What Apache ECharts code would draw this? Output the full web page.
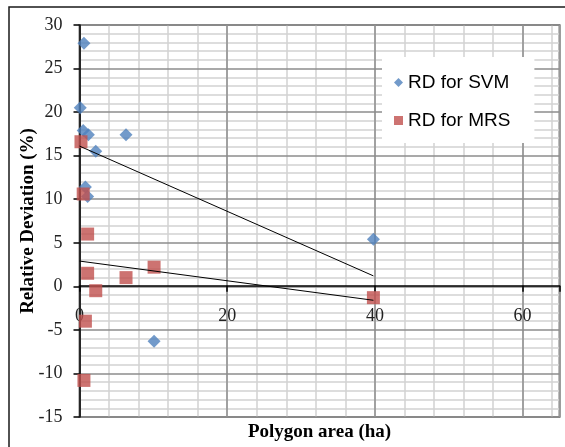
<!DOCTYPE html>
<html>
<head>
<meta charset="utf-8">
<script src="https://cdn.jsdelivr.net/npm/echarts@6/dist/echarts.min.js"></script>
<style>
html,body{margin:0;padding:0;background:#fff;}
#c{width:565px;height:447px;}
</style>
</head>
<body>
<div id="c"></div>
<script>
// Data
var svmX = [0.6, 0.1, 0.5, 1.2, 6.3, 2.2, 0.8, 1.1, 10.1, 39.8];
var svmY = [27.9, 20.5, 17.9, 17.4, 17.4, 15.5, 11.4, 10.3, -6.3, 5.4];
var mrsX = [0.2, 0.5, 1.1, 1.1, 2.2, 6.3, 10.1, 0.8, 0.6, 39.8];
var mrsY = [16.6, 10.6, 6.0, 1.5, -0.5, 1.0, 2.2, -4.0, -10.8, -1.3];
var svmTrendX = [0, 39.8];
var svmTrendY = [16.1, 1.2];
var mrsTrendX = [0, 39.8];
var mrsTrendY = [2.9, -1.6];
var seriesNames = ['RD for SVM', 'RD for MRS'];
var xTitle = 'Polygon area (ha)';
var yTitle = 'Relative Deviation (%)';

function pairs(xs, ys) { return xs.map(function (x, i) { return [x, ys[i]]; }); }

var W = 565, H = 447;
var gTop = 25, gBottom = 28, gLeft = 79.5, gRight = 5.5;
var yMin = -15, yMax = 30;
// distance from the bottom edge up to the y = 0 line, through the same linear scale
var plotH = H - gTop - gBottom;
var zeroOffset = -plotH * (0 - yMin) / (yMax - yMin);

var chart = echarts.init(document.getElementById('c'));
var serif = 'Liberation Serif';
chart.setOption({
  animation: false,
  backgroundColor: '#fff',
  grid: { left: gLeft, right: gRight, top: gTop, bottom: gBottom, show: true, borderColor: '#7f7f7f', borderWidth: 2, backgroundColor: 'transparent' },
  graphic: [
    { type: 'rect', shape: { x: 9, y: 7, width: 700, height: 700 }, style: { fill: 'none', stroke: '#1a1a1a', lineWidth: 1.5 }, z: 100, silent: true }
  ],
  legend: {
    orient: 'vertical', left: 382, top: 57,
    padding: [16, 24, 13, 12],
    backgroundColor: '#fff',
    itemWidth: 9, itemHeight: 9, itemGap: 19,
    textStyle: { fontFamily: 'Liberation Sans', fontSize: 19, color: '#000' },
    data: [
      { name: seriesNames[0], icon: 'diamond' },
      { name: seriesNames[1], icon: 'rect' }
    ],
    z: 20
  },
  xAxis: [
    {
      type: 'value', min: 0, max: 65, interval: 20, z: 3,
      position: 'bottom', offset: zeroOffset,
      axisLine: { onZero: false, lineStyle: { color: '#000', width: 1.5 } },
      axisTick: { show: true, length: 6, lineStyle: { color: '#000', width: 1.5 } },
      axisLabel: { margin: 22, fontFamily: serif, fontSize: 18, color: '#222',
        formatter: function (v) { return (v % 20 === 0) ? String(v) : ''; } },
      splitLine: { show: true, lineStyle: { color: '#8c8c8c', width: 1.5 } }
    },
    {
      type: 'value', min: 0, max: 65, interval: 4, position: 'bottom', z: 1,
      axisLine: { show: false, onZero: false },
      axisTick: { show: false },
      axisLabel: { show: false },
      splitLine: { show: true, lineStyle: { color: '#d2d2d2', width: 1.5 } },
      name: xTitle, nameLocation: 'middle', nameGap: 6, nameMoveOverlap: false,
      nameTextStyle: { fontFamily: serif, fontSize: 19, fontWeight: 'bold', color: '#000', verticalAlign: 'top' }
    }
  ],
  yAxis: {
    type: 'value', min: yMin, max: yMax, interval: 5, z: 3,
    axisLine: { onZero: false, lineStyle: { color: '#000', width: 1.5 } },
    axisTick: { show: true, length: 6, lineStyle: { color: '#000', width: 1.5 } },
    axisLabel: { margin: 17, fontFamily: serif, fontSize: 18, color: '#222' },
    splitLine: { show: true, lineStyle: { color: '#8c8c8c', width: 1.5 } },
    minorTick: { show: false, splitNumber: 5 },
    minorSplitLine: { show: true, lineStyle: { color: '#d2d2d2', width: 1.5 } },
    name: yTitle, nameLocation: 'middle', nameGap: 42, nameMoveOverlap: false,
    nameTextStyle: { fontFamily: serif, fontSize: 19, fontWeight: 'bold', color: '#000' }
  },
  series: [
    { name: seriesNames[0], type: 'scatter', symbol: 'diamond', symbolSize: 13,
      itemStyle: { color: '#4F81BD' }, data: pairs(svmX, svmY), z: 3 },
    { name: seriesNames[1], type: 'scatter', symbol: 'rect', symbolSize: 13,
      itemStyle: { color: '#C0504D' }, data: pairs(mrsX, mrsY), z: 4 },
    { name: 'SVM trend', type: 'line', showSymbol: false, symbol: 'none',
      lineStyle: { color: '#000', width: 1 }, data: pairs(svmTrendX, svmTrendY), z: 6 },
    { name: 'MRS trend', type: 'line', showSymbol: false, symbol: 'none',
      lineStyle: { color: '#000', width: 1 }, data: pairs(mrsTrendX, mrsTrendY), z: 6 }
  ]
});
</script>
</body>
</html>
